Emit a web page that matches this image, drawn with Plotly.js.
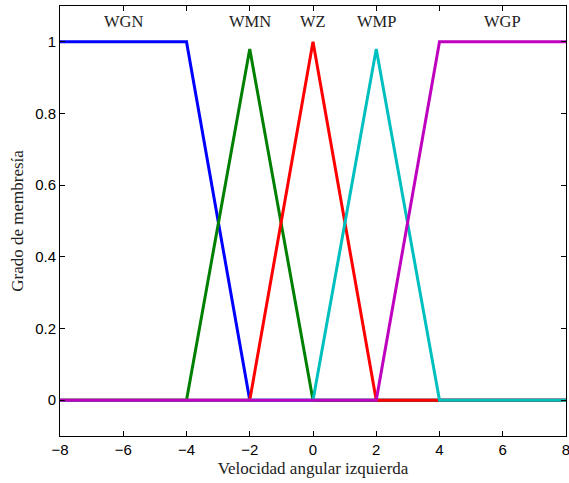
<!DOCTYPE html>
<html>
<head>
<meta charset="utf-8">
<script src="https://cdn.plot.ly/plotly-3.0.1.min.js"></script>
<style>html,body{margin:0;padding:0;background:#fff;}#chart{width:569px;height:483px;}</style>
</head>
<body>
<div id="chart"></div>
<script>
// Membership functions (x breakpoints and membership values)
const xWGN = [-8, -4, -2, 8];
const yWGN = [1, 1, 0, 0];
const xWMN = [-8, -4, -2, 0, 8];
const yWMN = [0, 0, 0.98, 0, 0];
const xWZ = [-8, -2, 0, 2, 8];
const yWZ = [0, 0, 1, 0, 0];
const xWMP = [-8, 0, 2, 4, 8];
const yWMP = [0, 0, 0.98, 0, 0];
const xWGP = [-8, 2, 4, 8];
const yWGP = [0, 0, 1, 1];

const labels = ['WGN', 'WMN', 'WZ', 'WMP', 'WGP'];
const labelX = [-6, -2, 0, 2, 6];
const labelY = 1.058;

const xTicks = [-8, -6, -4, -2, 0, 2, 4, 6, 8];
const yTicks = [0, 0.2, 0.4, 0.6, 0.8, 1];
const yTickText = ['0', '0.2', '0.4', '0.6', '0.8', '1'];

const colors = ['#0000ff', '#008000', '#ff0000', '#00bfbf', '#bf00bf'];
const series = [[xWGN, yWGN], [xWMN, yWMN], [xWZ, yWZ], [xWMP, yWMP], [xWGP, yWGP]];

const traces = series.map((s, i) => ({
  x: s[0], y: s[1], type: 'scatter', mode: 'lines',
  line: {color: colors[i], width: 3}, hoverinfo: 'skip', showlegend: false
}));

const annotations = labels.map((t, i) => ({
  x: labelX[i], y: labelY, xref: 'x', yref: 'y', text: t, showarrow: false,
  font: {family: 'Liberation Serif, serif', size: 16.5, color: '#222'}
}));

const layout = {
  width: 569, height: 483,
  margin: {l: 60, r: 3, t: 6, b: 47},
  paper_bgcolor: '#fff', plot_bgcolor: '#fff',
  showlegend: false,
  annotations: annotations,
  xaxis: {
    range: [-8, 8], tickvals: xTicks, ticks: 'inside', ticklen: 5, tickcolor: '#000',
    showline: true, linecolor: '#000', linewidth: 1, mirror: 'ticks',
    showgrid: false, zeroline: false, ticklabeloverflow: 'allow',
    tickfont: {family: 'Liberation Sans, Arial, sans-serif', size: 15, color: '#000'},
    title: {text: 'Velocidad angular izquierda', standoff: 5,
      font: {family: 'Liberation Serif, serif', size: 17, color: '#222'}}
  },
  yaxis: {
    range: [-0.1, 1.1], tickvals: yTicks, ticktext: yTickText, ticks: 'inside', ticklen: 5, tickcolor: '#000',
    showline: true, linecolor: '#000', linewidth: 1, mirror: 'ticks',
    showgrid: false, zeroline: false,
    tickfont: {family: 'Liberation Sans, Arial, sans-serif', size: 15, color: '#000'},
    title: {text: 'Grado de membresía', standoff: 7,
      font: {family: 'Liberation Serif, serif', size: 17, color: '#222'}}
  }
};

Plotly.newPlot('chart', traces, layout, {displayModeBar: false, staticPlot: true});
</script>
</body>
</html>
